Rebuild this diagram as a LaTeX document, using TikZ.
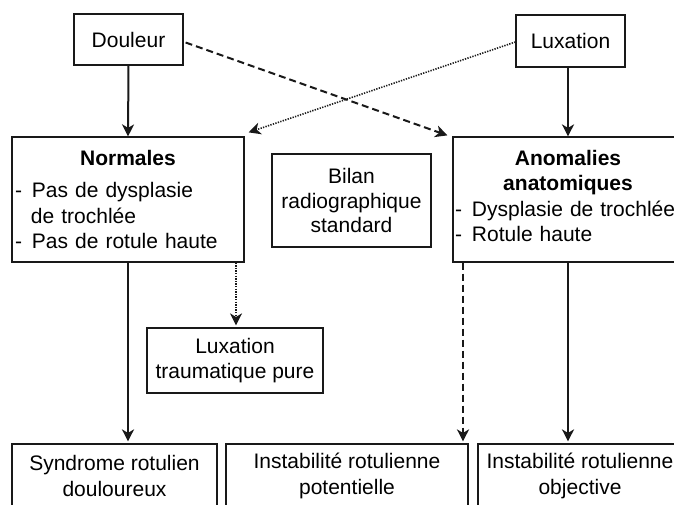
\documentclass[tikz,border=0pt]{standalone}
\usepackage{fontspec}
\setmainfont{Liberation Sans}
\usetikzlibrary{arrows.meta}
\begin{document}
\begin{tikzpicture}[x=1pt,y=-1pt,
  every node/.style={font=\fontsize{21}{25.5}\selectfont},
  box/.style={draw=black!90, line width=1.2pt, inner sep=0pt, align=center, rectangle},
  arr/.style={draw=black!90, line width=2pt, -{Stealth[length=12pt,width=12pt,inset=3.5pt]}},
  dsh/.style={arr, dash pattern=on 7pt off 4pt},
  dtt/.style={arr, line width=1.6pt, dash pattern=on 1.3pt off 1.3pt},
  gap/.style={shorten >=2pt}
]
\useasboundingbox (0,0) rectangle (674,504);
\clip (0,0) rectangle (674,504);

\node[box, minimum width=109pt, minimum height=51pt] (dou) at (128.5,39.5) {Douleur};
\node[box, minimum width=109pt, minimum height=52pt] (lux) at (570.5,41) {Luxation};

\node[box, minimum width=232pt, minimum height=125pt, text width=226pt, align=left] (nor) at (128,199.5)
  {{\centering\textbf{Normales}\par}\vspace{7pt}- \hspace{3pt}Pas de dysplasie\\\hspace*{16pt}de trochlée\\- \hspace{3pt}Pas de rotule haute};
\node[box, minimum width=159pt, minimum height=93pt, text width=155pt, align=center,
  font=\fontsize{21}{24.5}\selectfont] (bil) at (351.5,200.5)
  {Bilan\\radiographique\\standard};
\node[box, minimum width=230pt, minimum height=125pt] (ano) at (568,199.5) {};
\node[inner sep=0pt, text width=226pt, align=left] (anotext) at (568,196)
  {{\centering\textbf{Anomalies}\\\textbf{anatomiques}\par}- \hspace{3pt}Dysplasie de trochlée\\- \hspace{3pt}Rotule haute};

\node[box, minimum width=176pt, minimum height=65pt] (ltp) at (235,360.5) {Luxation\\traumatique pure};

\node[box, minimum width=205pt, minimum height=64pt] (syn) at (114.5,476) {Syndrome rotulien\\douloureux};
\node[box, minimum width=242pt, minimum height=64pt] (pot) at (347,476) {Instabilité rotulienne\\potentielle};
\node[box, minimum width=204pt, minimum height=64pt] (obj) at (580,476) {Instabilité rotulienne\\objective};

% top arrows
\draw[arr] (dou.south) -- (nor.north);
\draw[arr] (lux.south -| 568,0) -- (nor.north -| 568,0);
\draw[dsh] ([xshift=2pt,yshift=-3pt]dou.east) -- ([xshift=-5pt,yshift=1pt]ano.north west);
\draw[dtt] ([yshift=-1pt]lux.west) -- ([xshift=4pt,yshift=4pt]nor.north east);

% lower arrows
\draw[arr,gap] (nor.south) -- (nor.south |- syn.north);
\draw[dtt,gap] (nor.south -| 236,0) -- (236,0 |- ltp.north);
\draw[dsh,gap] (ano.south -| 463,0) -- (463,0 |- pot.north);
\draw[arr,gap] (ano.south) -- (ano.south |- obj.north);
\end{tikzpicture}
\end{document}
